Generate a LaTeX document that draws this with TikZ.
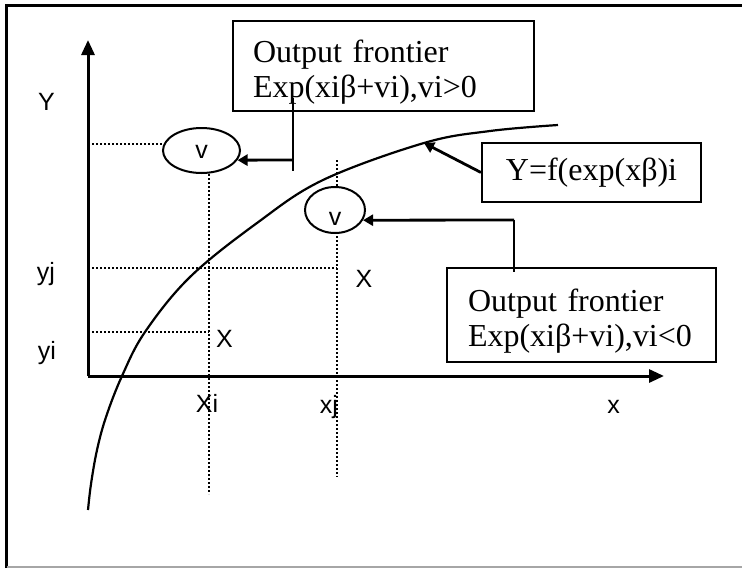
\documentclass[tikz,border=0pt]{standalone}
\usepackage{fontspec}
\setmainfont{Liberation Serif}
\setsansfont{Liberation Sans}
\usetikzlibrary{shapes.geometric,arrows.meta,positioning,calc}
\newcommand{\boxfont}{\fontsize{32}{35}\selectfont}
\newcommand{\axfont}{\sffamily\fontsize{25}{28}\selectfont}

\begin{document}
\begin{tikzpicture}[
    x=1pt, y=-1pt,
    axis/.style={line width=3pt, -{Triangle[length=15pt,width=13pt]}},
    guide/.style={dotted, line width=2pt},
    frontier/.style={line width=2.2pt},
    framebox/.style={draw, line width=2pt, font=\boxfont, inner ysep=0pt},
    errnode/.style={ellipse, draw, line width=2pt, fill=white, font=\axfont, inner sep=0pt},
    lab/.style={font=\axfont, anchor=base, inner sep=0pt},
    callout/.style={line width=2.8pt, -{Triangle[length=10pt,width=11pt]}},
    leader/.style={line width=2pt},
]
\useasboundingbox (0,0) rectangle (742,568);
% page frame
\draw[line width=3.5pt] (6.5,568) -- (6.5,5.5) -- (742,5.5);
\draw[gray!70, line width=1.5pt] (6.5,567) -- (742,567);

% key points
\coordinate (O) at (88,376);
\coordinate (yTop) at (88,40);
\coordinate (xTip) at (664,376);
\coordinate (Pi) at (208.5,331.5);
\coordinate (Pj) at (337,268);
\coordinate (iBot) at (208.5,494);
\coordinate (jTop) at (337,160);
\coordinate (jBot) at (337,477);
\coordinate (onCurve) at (424,143);
\coordinate (kneeA) at (293,160);
\coordinate (kneeB) at (514,220);

% dotted guides
\draw[guide] (O |- Pj) -- (Pj);
\draw[guide] (O |- Pi) -- (Pi);
\draw[guide] (jTop) -- (jBot);

% frontier curve
\draw[frontier] plot[smooth, tension=0.6] coordinates {(88,510) (91,484) (97,450) (106,417) (122,376) (145,332) (190,277) (257,223) (323,180) (onCurve) (490,131) (558,125)};

% axes
\draw[axis] (O) -- (yTop);
\draw[axis] (O) -- (xTip);

% error terms
\node[errnode, minimum width=77pt, minimum height=45pt, text height=15pt] (vA) at (201.5,150.5) {v};
\node[errnode, minimum width=60pt, minimum height=46pt, text height=30pt] (vB) at (335,210) {v};
\draw[guide] (vA.170 -| O) -- (vA.170);
\draw[guide] (vA.south -| Pi) -- (iBot);

% boxes
\node[framebox, text width=261pt, inner xsep=20pt, minimum height=90pt, align=left, text height=20pt, text depth=28pt] (boxA) at (383.5,66) {Output frontier\\Exp(xiβ+vi),vi>0};
\node[framebox, text width=227pt, inner xsep=21pt, minimum height=94pt, align=left, text height=20pt, text depth=28pt] (boxB) at (581.5,315) {Output frontier\\Exp(xiβ+vi),vi<0};
\node[framebox, minimum width=219pt, minimum height=59pt, text height=20pt, text depth=5pt] (fbox) at (591.5,172.5) {Y=f(exp(xβ)i};

% callouts
\draw[leader] ($(boxA.south -| kneeA)+(0,-14)$) -- ($(kneeA)+(0,11)$);
\draw[callout] (kneeA) -- (vA.-15);
\draw[leader] (kneeB) -- ($(boxB.north -| kneeB)+(0,5)$);
\draw[callout] (kneeB) -- (vB.-20);
\draw[callout] (fbox.west) -- (onCurve);

% axis labels
\node[lab] (labY) at (46.5,110) {Y};
\node[lab] (labyj) at (46,280) {yj};
\node[lab] (labyi) at (47,359) {yi};
\node[lab] (labXa) at (224.5,347) {X};
\node[lab] (labXb) at (364,287) {X};
\node[lab] (labxi) at (207,412) {Xi};
\node[lab] (labxj) at (329,413) {xj};
\node[lab] (labx) at (613.5,413) {x};
\end{tikzpicture}
\end{document}
